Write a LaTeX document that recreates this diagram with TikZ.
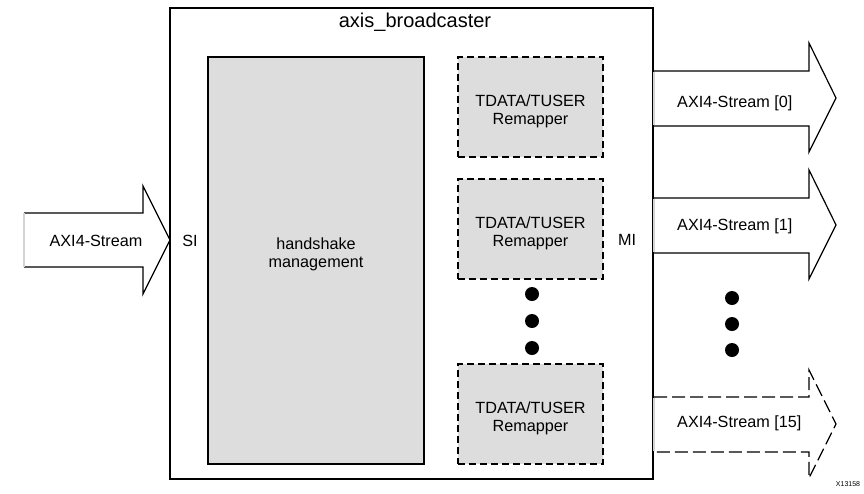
\documentclass[tikz,border=0pt]{standalone}
\usepackage{fontspec}
\setmainfont{Liberation Sans}
\usetikzlibrary{positioning}
\definecolor{boxgray}{RGB}{221,221,221}
\definecolor{edgegray}{RGB}{212,212,212}

\begin{document}
\begin{tikzpicture}
    [
    x = 1pt, y = -1pt,
    every node/.style = {font=\fontsize{16.2}{18}\selectfont, align=center, inner sep=0pt},
    ]
    \tikzstyle{core box}=[draw,line width=2pt,minimum width=483pt,minimum height=471pt]
    \tikzstyle{hs box}=[draw,line width=2pt,fill=boxgray,minimum width=216pt,minimum height=407pt]
    \tikzstyle{remap box}=[draw,line width=1.6pt,fill=boxgray,dash pattern=on 7pt off 4pt,minimum width=145pt,minimum height=100pt]
    \tikzstyle{dot}=[circle,fill=black,minimum size=14pt]
    \tikzstyle{stream}=[draw,line width=1.2pt,line join=miter]
    \tikzstyle{stream edge}=[draw=edgegray,line width=1.5pt]

    \useasboundingbox (0,0) rectangle (864,493);

    % broadcaster core
    \node[core box] (core) at (411.5,243) {};
    \node[font=\fontsize{20}{24}\selectfont] (title) at (415,22) {axis\_broadcaster};
    \node[hs box] (hs) at (316,260.5) {};
    \node (hstext) at (316,254) {handshake\\management};
    \node[remap box] (remap0) at (530.5,107) {};
    \node[remap box] (remap1) at (530.5,229) {};
    \node[remap box] (remap15) at (530.5,414) {};
    \node (rtext0) at ([yshift=-4pt]remap0.center) {TDATA/TUSER\\Remapper};
    \node (rtext1) at ([yshift=-4pt]remap1.center) {TDATA/TUSER\\Remapper};
    \node (rtext15) at ([yshift=-4pt]remap15.center) {TDATA/TUSER\\Remapper};
    \node[dot] (d1) at (532,294) {};
    \node[dot] (d2) at (532,321) {};
    \node[dot] (d3) at (532,348) {};
    \node (si) at (190,241) {SI};
    \node (mi) at (627,240) {MI};

    % slave side stream
    \fill[white] (24,213) -- (143,213) -- (143,186) -- (170,240) -- (143,294) -- (143,267) -- (24,267) -- cycle;
    \draw[stream] (24,213) -- (143,213) -- (143,186) -- (170,240) -- (143,294) -- (143,267) -- (24,267);
    \draw[stream edge] (24,213) -- (24,267);
    \node (sin) at (96,241) {AXI4-Stream};

    % master side streams
    \fill[white] (654,71) -- (809,71) -- (809,43) -- (836,98) -- (809,152) -- (809,126) -- (654,126) -- cycle;
    \draw[stream] (654,71) -- (809,71) -- (809,43) -- (836,98) -- (809,152) -- (809,126) -- (654,126);
    \draw[stream edge] (654,72) -- (654,125);
    \node[anchor=west] (m0) at (677,103) {AXI4-Stream [0]};

    \fill[white] (654,198) -- (809,198) -- (809,170) -- (836,225) -- (809,279) -- (809,253) -- (654,253) -- cycle;
    \draw[stream] (654,198) -- (809,198) -- (809,170) -- (836,225) -- (809,279) -- (809,253) -- (654,253);
    \draw[stream edge] (654,199) -- (654,252);
    \node[anchor=west] (m1) at (677,226) {AXI4-Stream [1]};

    \fill[white] (654,397) -- (809,397) -- (809,370) -- (836,424) -- (809,478) -- (809,452) -- (654,452) -- cycle;
    \draw[stream,dash pattern=on 13pt off 5pt] (654,397) -- (809,397) -- (809,370) -- (836,424) -- (809,478) -- (809,452) -- (654,452);
    \draw[stream edge] (654,398) -- (654,451);
    \node[anchor=west] (m15) at (677,423) {AXI4-Stream [15]};

    \node[dot] (e1) at (732,298) {};
    \node[dot] (e2) at (732,324) {};
    \node[dot] (e3) at (732,350) {};

    \node[font=\fontsize{7}{8}\selectfont] (fig) at (848,484) {X13158};
\end{tikzpicture}
\end{document}
